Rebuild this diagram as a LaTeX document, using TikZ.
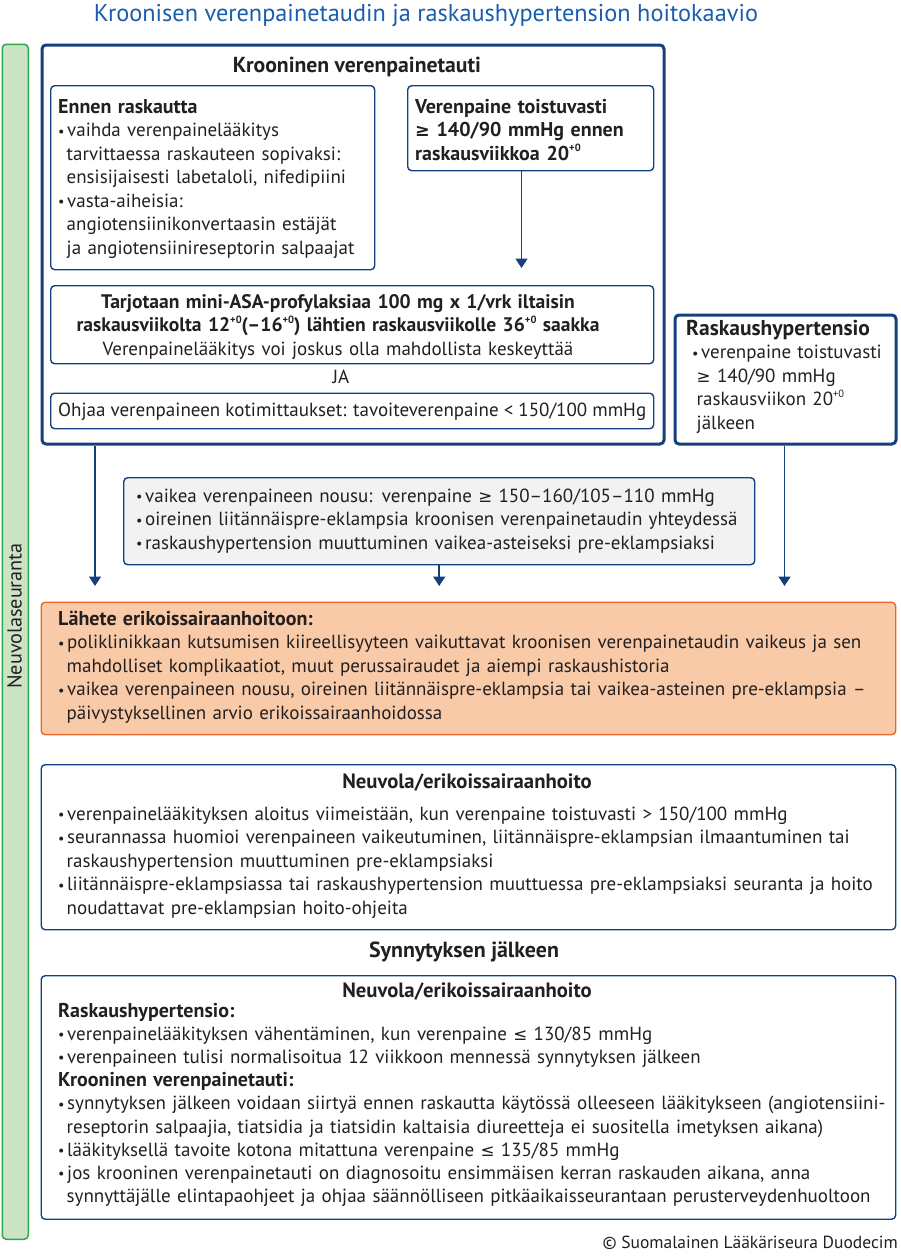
\documentclass[tikz,border=0pt]{standalone}
\usepackage{fontspec}
\usepackage{graphicx}
\setmainfont{PT Sans}
\newfontfamily\symf{DejaVu Sans}[Scale=0.88]
\usetikzlibrary{arrows.meta}
\definecolor{navy}{HTML}{15407D}
\definecolor{titleblue}{HTML}{1A5DAD}
\definecolor{ink}{HTML}{231F20}
\definecolor{barfill}{HTML}{CCE3C4}
\definecolor{bardraw}{HTML}{2EA84B}
\definecolor{orfill}{HTML}{F9CAA7}
\definecolor{ordraw}{HTML}{E8682B}
\definecolor{grfill}{HTML}{F2F2F2}
\newcommand\bu{\makebox[9pt][l]{\raisebox{0.5pt}{\scalebox{0.75}{•}}}}
\newcommand\ct{\hspace*{8.5pt}}
\newcommand\pz{\raisebox{0.42em}{\fontsize{10.5}{11}\selectfont +0}}
\newcommand\gee{{\symf ≥}}
\newcommand\lee{{\symf ≤}}
\begin{document}
\begin{tikzpicture}[x=1pt,y=-1pt,
  box/.style={draw=navy, line width=1.4pt, rounded corners=4pt, anchor=north west, inner sep=0pt},
  bigbox/.style={box, line width=3pt},
  txt/.style={anchor=base west, inner sep=0pt, text=ink, align=left, font=\fontsize{19}{23.5}\selectfont},
  ctxt/.style={txt, anchor=base, align=center},
  hd/.style={font=\fontsize{20}{23.5}\selectfont\bfseries},
  arr/.style={draw=navy, line width=1.7pt, -{Triangle[length=9.5pt,width=12pt]}}]
\useasboundingbox (0,0) rectangle (900,1258);

% title
\node[anchor=base, inner sep=0pt, text=titleblue, font=\fontsize{24.3}{28}\selectfont] (title) at (426,21) {Kroonisen verenpainetaudin ja raskaushypertension hoitokaavio};

% left bar
\node[draw=bardraw, fill=barfill, line width=1.5pt, rounded corners=4pt, minimum width=26pt, minimum height=1195pt, anchor=north west, inner sep=0pt] (bar) at (1.5,43.5) {};
\node[rotate=90, inner sep=0pt, text=ink, font=\fontsize{20.2}{23}\selectfont] (barlabel) at (14.5,616) {Neuvolaseuranta};

% main chronic box
\node[bigbox, minimum width=622pt, minimum height=399pt] (main) at (40.5,43.5) {};
\node[ctxt, font=\fontsize{21.7}{24}\selectfont\bfseries] (mainT) at (357,72) {Krooninen verenpainetauti};

\node[box, minimum width=324pt, minimum height=184pt] (ennen) at (50,85) {};
\node[txt, text width=315pt] (ennenT) at (58,113) {{\fontsize{20}{23.8}\selectfont\bfseries Ennen raskautta}\\
\bu vaihda verenpainelääkitys\\
\ct tarvittaessa raskauteen sopivaksi:\\
\ct ensisijaisesti labetaloli, nifedipiini\\
\bu vasta-aiheisia:\\
\ct angiotensiinikonvertaasin estäjät\\
\ct ja angiotensiinireseptorin salpaajat};

\node[box, minimum width=246pt, minimum height=85pt] (vp) at (407,85) {};
\node[txt, text width=240pt, hd] (vpT) at (415,113) {Verenpaine toistuvasti\\
\gee{} 140/90 mmHg ennen\\
raskausviikkoa 20\pz};

\node[box, minimum width=603pt, minimum height=78pt] (tarj) at (50,285) {};
\node[ctxt, text width=600pt] (tarjT) at (338,308) {{\fontsize{19.6}{23.5}\selectfont\bfseries Tarjotaan mini-ASA-profylaksiaa 100 mg x 1/vrk iltaisin\\
raskausviikolta 12\pz(–16\pz) lähtien raskausviikolle 36\pz{} saakka}\\
Verenpainelääkitys voi joskus olla mahdollista keskeyttää};

\node[ctxt] (ja) at (341,383) {JA};

\node[box, minimum width=603pt, minimum height=35.5pt] (ohjaa) at (50,392.5) {};
\node[txt] (ohjaaT) at (58,416.5) {Ohjaa verenpaineen kotimittaukset: tavoiteverenpaine < 150/100 mmHg};

\path ([yshift=17pt]tarj.north) coordinate (tarjTop);
\draw[arr] ([xshift=114.5pt]vp.south west) coordinate (a1) -- (a1 |- tarjTop);

% gestational hypertension
\node[bigbox, minimum width=221pt, minimum height=129pt] (rh) at (673.5,313.5) {};
\node[txt, text width=210pt] (rhT) at (686,335) {{\fontsize{21.5}{23.5}\selectfont\bfseries Raskaushypertensio}\\
\hspace*{6pt}\bu verenpaine toistuvasti\\
\hspace*{10.5pt}\gee{} 140/90 mmHg\\
\hspace*{10.5pt}raskausviikon 20\pz\\
\hspace*{10.5pt}jälkeen};

% grey box
\node[box, fill=grfill, minimum width=631pt, minimum height=87pt] (grey) at (123,477) {};
\node[txt, text width=620pt] (greyT) at (136,502) {\bu vaikea verenpaineen nousu: verenpaine \gee{} 150–160/105–110 mmHg\\
\bu oireinen liitännäispre-eklampsia kroonisen verenpainetaudin yhteydessä\\
\bu raskaushypertension muuttuminen vaikea-asteiseksi pre-eklampsiaksi};

% orange referral
\node[box, draw=ordraw, fill=orfill, minimum width=854.5pt, minimum height=132.5pt] (orange) at (40.5,601.5) {};
\node[txt, text width=840pt] (orangeT) at (58,625) {{\fontsize{20}{23.5}\selectfont\bfseries Lähete erikoissairaanhoitoon:}\\
\bu poliklinikkaan kutsumisen kiireellisyyteen vaikuttavat kroonisen verenpainetaudin vaikeus ja sen\\
\ct mahdolliset komplikaatiot, muut perussairaudet ja aiempi raskaushistoria\\
\bu vaikea verenpaineen nousu, oireinen liitännäispre-eklampsia tai vaikea-asteinen pre-eklampsia –\\
\ct päivystyksellinen arvio erikoissairaanhoidossa};

\path ([yshift=15.5pt]orange.north) coordinate (orTop);
\draw[arr] ([xshift=54.5pt]main.south west) coordinate (a2) -- (a2 |- orTop);
\draw[arr] ([xshift=111pt]rh.south west) coordinate (a3) -- (a3 |- orTop);
\draw[arr] (grey.south) -- (grey.south |- orTop);

% neuvola box
\node[box, minimum width=854.5pt, minimum height=165pt] (neuv) at (40.5,764) {};
\node[ctxt, font=\fontsize{20.7}{23.5}\selectfont\bfseries] (neuvTitle) at (467,788) {Neuvola/erikoissairaanhoito};
\node[txt, text width=840pt] (neuvT) at (58,820) {\bu verenpainelääkityksen aloitus viimeistään, kun verenpaine toistuvasti > 150/100 mmHg\\
\bu seurannassa huomioi verenpaineen vaikeutuminen, liitännäispre-eklampsian ilmaantuminen tai\\
\ct raskaushypertension muuttuminen pre-eklampsiaksi\\
\bu liitännäispre-eklampsiassa tai raskaushypertension muuttuessa pre-eklampsiaksi seuranta ja hoito\\
\ct noudattavat pre-eklampsian hoito-ohjeita};

\node[ctxt, font=\fontsize{21.9}{23.5}\selectfont\bfseries] (synT) at (464,957) {Synnytyksen jälkeen};

% after delivery box
\node[box, minimum width=854.5pt, minimum height=243.5pt] (after) at (40.5,975) {};
\node[ctxt, font=\fontsize{20.7}{23.5}\selectfont\bfseries] (afterTitle) at (467,997) {Neuvola/erikoissairaanhoito};
\node[txt, text width=840pt, font=\fontsize{19}{23.2}\selectfont] (afterT) at (58,1017) {{\fontsize{20}{23.2}\selectfont\bfseries Raskaushypertensio:}\\
\bu verenpainelääkityksen vähentäminen, kun verenpaine \lee{} 130/85 mmHg\\
\bu verenpaineen tulisi normalisoitua 12 viikkoon mennessä synnytyksen jälkeen\\
{\fontsize{20}{23.2}\selectfont\bfseries Krooninen verenpainetauti:}\\
\bu synnytyksen jälkeen voidaan siirtyä ennen raskautta käytössä olleeseen lääkitykseen (angiotensiini-\\
\ct reseptorin salpaajia, tiatsidia ja tiatsidin kaltaisia diureetteja ei suositella imetyksen aikana)\\
\bu lääkityksellä tavoite kotona mitattuna verenpaine \lee{} 135/85 mmHg\\
\bu jos krooninen verenpainetauti on diagnosoitu ensimmäisen kerran raskauden aikana, anna\\
\ct synnyttäjälle elintapaohjeet ja ohjaa säännölliseen pitkäaikaisseurantaan perusterveydenhuoltoon};

\node[anchor=base east, inner sep=0pt, text=ink, font=\fontsize{17.5}{20}\selectfont] (copy) at (898,1248) {© Suomalainen Lääkäriseura Duodecim};
\end{tikzpicture}
\end{document}
